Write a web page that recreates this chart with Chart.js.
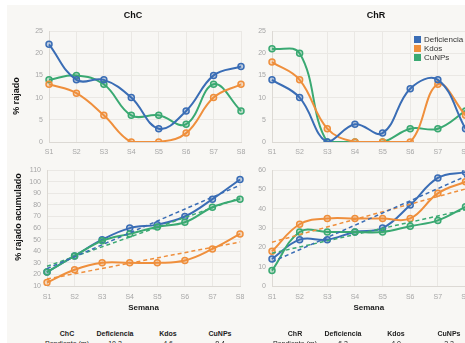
<!DOCTYPE html>
<html><head><meta charset="utf-8">
<script src="https://cdn.jsdelivr.net/npm/chart.js@4/dist/chart.umd.min.js"></script>
<style>
html,body{margin:0;padding:0;background:#fff;width:465px;height:343px;overflow:hidden;font-family:"Liberation Sans",Arial,sans-serif;}
#panel{position:absolute;left:7px;top:5px;width:620px;height:400px;background:#f8f7f4;}
canvas{position:absolute;}
.ttl{position:absolute;font-weight:bold;font-size:9px;color:#111;transform:translate(-50%,-50%);white-space:nowrap;}
.ytl{position:absolute;font-weight:bold;font-size:9px;color:#111;transform:translate(-50%,-50%) rotate(-90deg);white-space:nowrap;}
.leg{position:absolute;left:414px;top:35px;font-size:8px;color:#333;}
.leg div{height:9px;line-height:9px;white-space:nowrap;}
.leg span{display:inline-block;width:7px;height:7px;margin-right:3px;vertical-align:-1px;}
.cell{position:absolute;font-size:7px;color:#222;transform:translate(-50%,-50%);white-space:nowrap;}
.cell.h{font-weight:bold;}
</style></head>
<body>
<div id="panel"></div>
<canvas id="c1" width="253" height="151" style="left:7px;top:5px"></canvas>
<canvas id="c2" width="250" height="151" style="left:250px;top:5px"></canvas>
<canvas id="c3" width="253" height="153" style="left:7px;top:160px"></canvas>
<canvas id="c4" width="250" height="153" style="left:250px;top:160px"></canvas>
<div class="ttl" style="left:133px;top:15px">ChC</div>
<div class="ttl" style="left:376px;top:15px">ChR</div>
<div class="ytl" style="left:16px;top:96px">% rajado</div>
<div class="ytl" style="left:18px;top:217px">% rajado acumulado</div>
<div class="leg" id="leg"></div>
<div id="tbl"></div>
<script>
// ---- data ----
const weeks = ['S1','S2','S3','S4','S5','S6','S7','S8'];
const seriesNames = ['Deficiencia','Kdos','CuNPs'];
const seriesColors = ['#3a6db5','#ef8f3c','#3aa972'];
const seriesFills = ['rgba(58,109,181,0.3)','rgba(239,143,60,0.3)','rgba(58,169,114,0.3)'];

const chcDef  = [22,14,14,10,3,7,15,17];
const chcKdos = [13,11,6,0,0,2,10,13];
const chcCu   = [14,15,13,6,6,4,13,7];

const chrDef  = [14,10,0,4,2,12,14,3];
const chrKdos = [18,14,3,0,0,0,13,6];
const chrCu   = [21,20,0,0,0,3,3,7];

const chcAccDef  = [22,36,50,60,63,70,85,102];
const chcAccKdos = [13,24,30,30,30,32,42,55];
const chcAccCu   = [22,36,49,55,61,65,78,85];

const chrAccDef  = [14,24,24,28,30,42,56,59];
const chrAccKdos = [18,32,35,35,35,35,48,54];
const chrAccCu   = [8,28,28,28,28,31,34,41];

// trend line end values (S1, S8)
const chcTrendDef  = [25,97];
const chcTrendKdos = [16,48];
const chcTrendCu   = [27,86];
const chrTrendDef  = [12.5,56.8];
const chrTrendKdos = [22.7,50.3];
const chrTrendCu   = [17,39.5];

const tableHeadChC = ['ChC','Deficiencia','Kdos','CuNPs'];
const tableHeadChR = ['ChR','Deficiencia','Kdos','CuNPs'];
const tableRowChC  = ['Pendiente (m)','10.3','4.6','8.4'];
const tableRowChR  = ['Pendiente (m)','6.3','4.0','3.2'];

// ---- helpers ----
const gridColor = '#eae8e4';
const axisColor = '#dcd9d4';
const tickColor = '#a6a6a6';

function lineDs(i, data){
  return {label:seriesNames[i], data, borderColor:seriesColors[i], backgroundColor:seriesFills[i],
    borderWidth:2, tension:0.4, pointRadius:3, pointBorderWidth:1.5,
    pointBackgroundColor:seriesFills[i], pointBorderColor:seriesColors[i], fill:false};
}
function trendDs(i, ends){
  const d = weeks.map((_,k)=> k===0 ? ends[0] : (k===weeks.length-1 ? ends[1] : null));
  return {label:seriesNames[i]+' tendencia', data:d, spanGaps:true, borderColor:seriesColors[i],
    borderWidth:1.5, borderDash:[4,3], pointRadius:0, tension:0, fill:false};
}
function makeChart(id, o){
  return new Chart(document.getElementById(id), {
    type:'line',
    data:{labels:weeks, datasets:o.datasets},
    options:{
      responsive:false, animation:false, events:[],
      layout:{padding:{left:0, top:o.padTop, right:o.padRight, bottom:0}},
      plugins:{legend:{display:false}, title:{display:false}, tooltip:{enabled:false}},
      scales:{
        x:{type:'category', offset:false,
           grid:{color:gridColor, drawTicks:false}, border:{color:axisColor},
           ticks:{color:tickColor, font:{size:7, family:'"Liberation Sans", Arial'}, padding:o.xPad, maxRotation:0, autoSkip:false},
           title:{display:!!o.xTitle, text:o.xTitle||'', color:'#222', font:{size:8, weight:'bold', family:'"Liberation Sans", Arial'}, padding:{top:0,bottom:0}},
           afterFit:s=>{s.height=o.xHeight;}},
        y:{min:o.min, max:o.max,
           grid:{color:gridColor, drawTicks:false}, border:{color:axisColor},
           ticks:{stepSize:o.step, color:tickColor, font:{size:7, family:'"Liberation Sans", Arial'}, padding:6},
           afterFit:s=>{s.width=o.yWidth;}}
      }
    }
  });
}

makeChart('c1', {datasets:[lineDs(0,chcDef), lineDs(1,chcKdos), lineDs(2,chcCu)],
  min:0, max:25, step:5, yWidth:42, padTop:26, padRight:19, xHeight:14, xPad:6});
makeChart('c2', {datasets:[lineDs(0,chrDef), lineDs(1,chrKdos), lineDs(2,chrCu)],
  min:0, max:25, step:5, yWidth:22, padTop:26, padRight:34.5, xHeight:14, xPad:6});
makeChart('c3', {datasets:[trendDs(0,chcTrendDef), trendDs(1,chcTrendKdos), trendDs(2,chcTrendCu),
  lineDs(1,chcAccKdos), lineDs(2,chcAccCu), lineDs(0,chcAccDef)],
  min:10, max:110, step:10, yWidth:40, padTop:6, padRight:20, xHeight:27, xPad:7, xTitle:'Semana'});
makeChart('c4', {datasets:[trendDs(0,chrTrendDef), trendDs(1,chrTrendKdos), trendDs(2,chrTrendCu),
  lineDs(1,chrAccKdos), lineDs(2,chrAccCu), lineDs(0,chrAccDef)],
  min:0, max:60, step:10, yWidth:22, padTop:6, padRight:34.5, xHeight:27, xPad:7, xTitle:'Semana'});

// legend
const leg = document.getElementById('leg');
seriesNames.forEach((n,i)=>{
  const r = document.createElement('div');
  const b = document.createElement('span'); b.style.background = seriesColors[i];
  r.appendChild(b); r.appendChild(document.createTextNode(n)); leg.appendChild(r);
});

// table
const tbl = document.getElementById('tbl');
const colL = [67,115,168,220], colR = [295,343,396,449];
function addRow(cells, xs, y, head){
  cells.forEach((t,i)=>{
    const d = document.createElement('div'); d.className = 'cell' + (head ? ' h' : '');
    d.style.left = xs[i]+'px'; d.style.top = y+'px'; d.textContent = t; tbl.appendChild(d);
  });
}
addRow(tableHeadChC, colL, 333, true);
addRow(tableHeadChR, colR, 333, true);
addRow(tableRowChC, colL, 343, false);
addRow(tableRowChR, colR, 343, false);
</script>
</body></html>
